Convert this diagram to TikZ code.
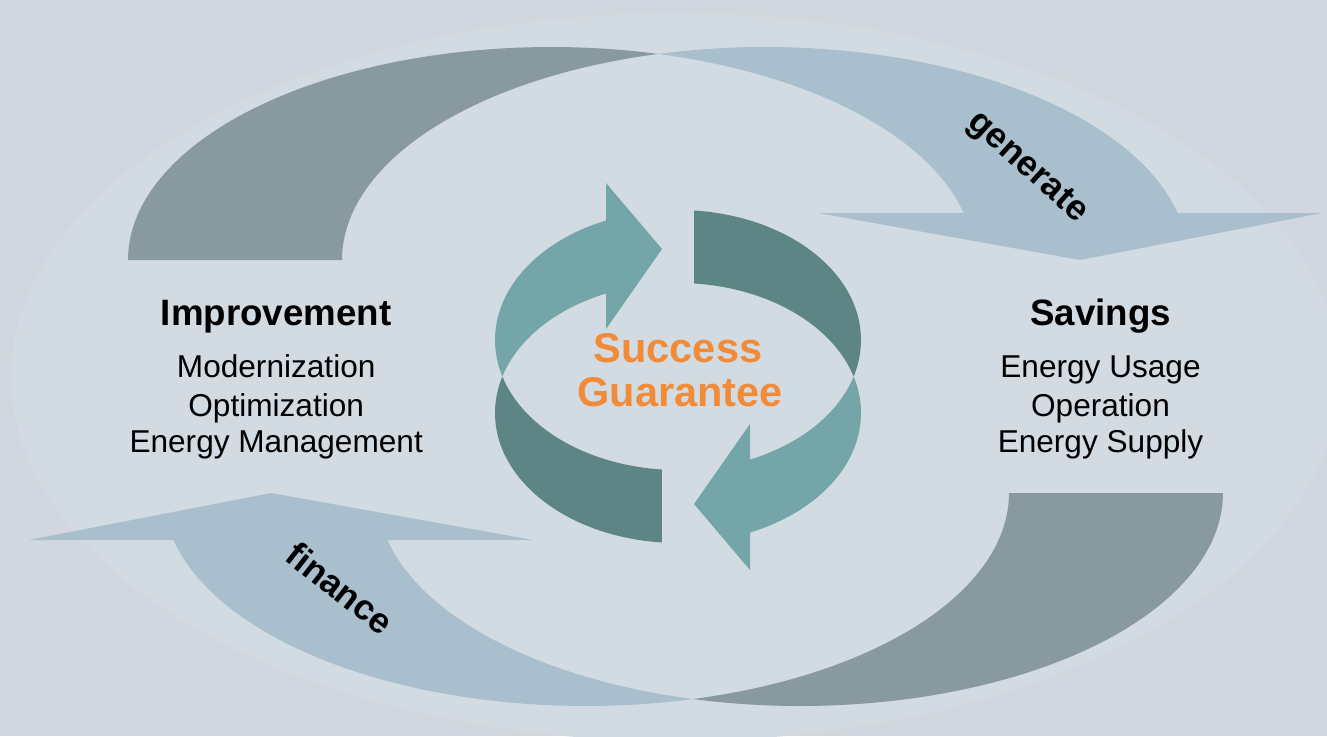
\documentclass[tikz,border=0pt]{standalone}
\usepackage{fontspec}
\setmainfont{Liberation Sans}
\definecolor{pagebg}{RGB}{210,214,222}
\definecolor{ovalbg}{RGB}{209,219,225}
\definecolor{greyband}{RGB}{137,153,160}
\definecolor{blueband}{RGB}{170,191,205}
\definecolor{teallight}{RGB}{116,165,168}
\definecolor{tealdark}{RGB}{94,133,133}
\definecolor{mottoorange}{RGB}{242,139,56}

% Large curved arrow: a rising shaded crescent plus a descending band with head.
% Two equal ellipses, shifted sideways by the band width.
\newcommand\bigCurvedArrow{%
  \fill[greyband]
    plot[domain=180:284.653,samples=80] ({551+423*cos(\x)},{260+213*sin(\x)})
    -- plot[domain=255.347:180,samples=80] ({765+423*cos(\x)},{260+213*sin(\x)})
    -- cycle;
  \fill[blueband]
    plot[domain=255.347:347.252,samples=80] ({765+423*cos(\x)},{260+213*sin(\x)})
    -- (1322,213) -- (1080,260) -- (818,213)
    -- plot[domain=347.252:284.653,samples=80] ({551+423*cos(\x)},{260+213*sin(\x)})
    -- cycle;
}

% Small circular arrow: two equal ellipses shifted vertically.
\newcommand\smallCurvedArrow{%
  \fill[teallight]
    plot[domain=163.69:246.83,samples=60] ({678+183*cos(\x)},{340+130*sin(\x)})
    -- (606,183) -- (662,249) -- (606,329)
    -- plot[domain=246.83:196.31,samples=60] ({678+183*cos(\x)},{413+130*sin(\x)})
    -- cycle;
  \fill[tealdark]
    plot[domain=196.31:95.02,samples=60] ({678+183*cos(\x)},{413+130*sin(\x)})
    -- plot[domain=95.02:163.69,samples=60] ({678+183*cos(\x)},{340+130*sin(\x)})
    -- cycle;
}

\begin{document}
\begin{tikzpicture}[x=1pt,y=-1pt,
  heading/.style={font=\fontsize{36.7}{44}\selectfont\bfseries, anchor=base, inner sep=0pt},
  item/.style={font=\fontsize{31.6}{38}\selectfont, anchor=base, inner sep=0pt},
  motto/.style={font=\fontsize{41.5}{50}\selectfont\bfseries, text=mottoorange, anchor=base, inner sep=0pt},
  verb/.style={font=\fontsize{35.5}{42}\selectfont\bfseries, inner sep=0pt}]

\fill[pagebg] (0,0) rectangle (1327,736);
\useasboundingbox (0,0) rectangle (1327,736);

% background oval
\fill[ovalbg] (675,377) ellipse [x radius=664, y radius=364];

% outer cycle: "generate" on top, "finance" below
\bigCurvedArrow
\begin{scope}[rotate around={180:(675.5,376.5)}]
  \bigCurvedArrow
\end{scope}

% inner cycle
\smallCurvedArrow
\begin{scope}[rotate around={180:(678,376.5)}]
  \smallCurvedArrow
\end{scope}

% left block
\node[heading] (impr) at (276.2,325) {Improvement};
\node[item] (modern) at (276.2,377.3) {Modernization};
\node[item] (optim) at (276.2,416) {Optimization};
\node[item] (emgmt) at (276.2,452.3) {Energy Management};

% right block
\node[heading] (sav) at (1100.5,325) {Savings};
\node[item] (usage) at (1100.5,377.3) {Energy Usage};
\node[item] (oper) at (1100.5,416) {Operation};
\node[item] (supply) at (1100.5,452.3) {Energy Supply};

% centre
\node[motto] (succ) at (678,362.3) {Success};
\node[motto] (guar) at (680,406.5) {Guarantee};

% arrow labels
\node[verb, rotate=-42] (gen) at (1027,168) {generate};
\node[verb, rotate=-38] (fin) at (340,588) {finance};
\end{tikzpicture}
\end{document}
